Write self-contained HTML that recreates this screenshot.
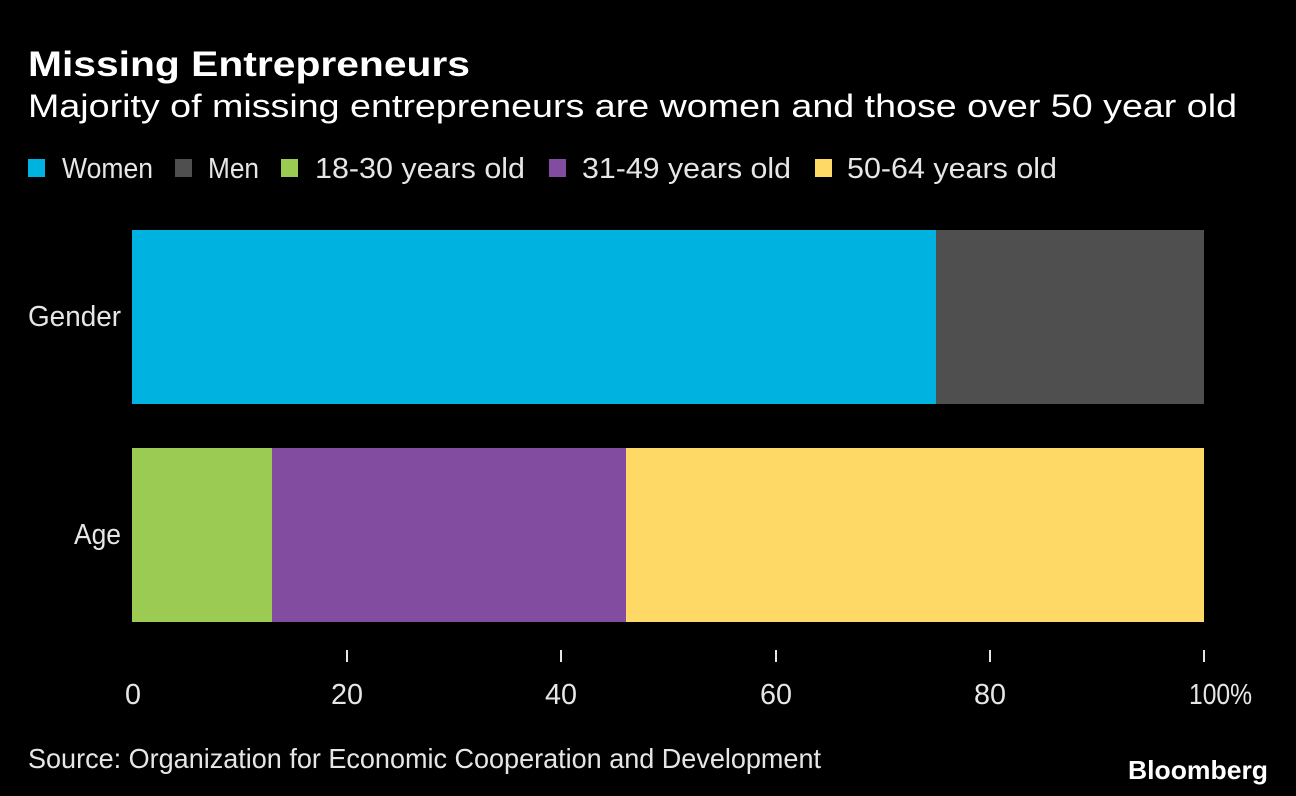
<!DOCTYPE html>
<html><head><meta charset="utf-8"><style>
html,body{margin:0;padding:0;background:#000;}
svg{display:block}
text{font-family:"Liberation Sans",sans-serif;fill:#e6e6e6}
</style></head><body>
<svg width="1296" height="796" viewBox="0 0 1296 796">
<rect width="1296" height="796" fill="#000"/>
<text x="28" y="76" font-size="35" font-weight="bold" style="fill:#fff" textLength="442" lengthAdjust="spacingAndGlyphs">Missing Entrepreneurs</text>
<text x="28" y="117" font-size="32" style="fill:#fff" textLength="1209" lengthAdjust="spacingAndGlyphs">Majority of missing entrepreneurs are women and those over 50 year old</text>
<g font-size="29">
<rect x="28" y="159" width="17" height="18" fill="#00b2e0"/>
<text x="62" y="178" textLength="91" lengthAdjust="spacingAndGlyphs">Women</text>
<rect x="175" y="159" width="17" height="18" fill="#4f4f4f"/>
<text x="208" y="178" textLength="51" lengthAdjust="spacingAndGlyphs">Men</text>
<rect x="281" y="159" width="17" height="18" fill="#9bcb52"/>
<text x="315" y="178" textLength="210" lengthAdjust="spacingAndGlyphs">18-30 years old</text>
<rect x="549" y="159" width="17" height="18" fill="#824ca0"/>
<text x="582" y="178" textLength="209" lengthAdjust="spacingAndGlyphs">31-49 years old</text>
<rect x="815" y="159" width="17" height="18" fill="#ffd966"/>
<text x="847" y="178" textLength="210" lengthAdjust="spacingAndGlyphs">50-64 years old</text>
</g>
<rect x="132" y="230" width="804" height="174" fill="#00b2e0"/>
<rect x="936" y="230" width="268" height="174" fill="#4f4f4f"/>
<rect x="132" y="448" width="140" height="174" fill="#9bcb52"/>
<rect x="272" y="448" width="354" height="174" fill="#824ca0"/>
<rect x="626" y="448" width="578" height="174" fill="#ffd966"/>
<g font-size="29">
<text x="28" y="326" textLength="93" lengthAdjust="spacingAndGlyphs">Gender</text>
<text x="74" y="544" textLength="47" lengthAdjust="spacingAndGlyphs">Age</text>
</g>
<g stroke="#e6e6e6" stroke-width="2">
<line x1="347" y1="650" x2="347" y2="662"/>
<line x1="561" y1="650" x2="561" y2="662"/>
<line x1="776" y1="650" x2="776" y2="662"/>
<line x1="990" y1="650" x2="990" y2="662"/>
<line x1="1204" y1="650" x2="1204" y2="662"/>
</g>
<g font-size="29" text-anchor="middle">
<text x="133" y="704" textLength="16" lengthAdjust="spacingAndGlyphs">0</text>
<text x="347" y="704" textLength="32" lengthAdjust="spacingAndGlyphs">20</text>
<text x="561" y="704" textLength="32" lengthAdjust="spacingAndGlyphs">40</text>
<text x="776" y="704" textLength="32" lengthAdjust="spacingAndGlyphs">60</text>
<text x="990" y="704" textLength="32" lengthAdjust="spacingAndGlyphs">80</text>
</g>
<text x="1189" y="704" font-size="29" textLength="63" lengthAdjust="spacingAndGlyphs">100%</text>
<text x="28" y="768" font-size="28" textLength="793" lengthAdjust="spacingAndGlyphs">Source: Organization for Economic Cooperation and Development</text>
<text x="1128" y="779" font-size="26" font-weight="bold" style="fill:#fff" textLength="140" lengthAdjust="spacingAndGlyphs">Bloomberg</text>
</svg>
</body></html>
